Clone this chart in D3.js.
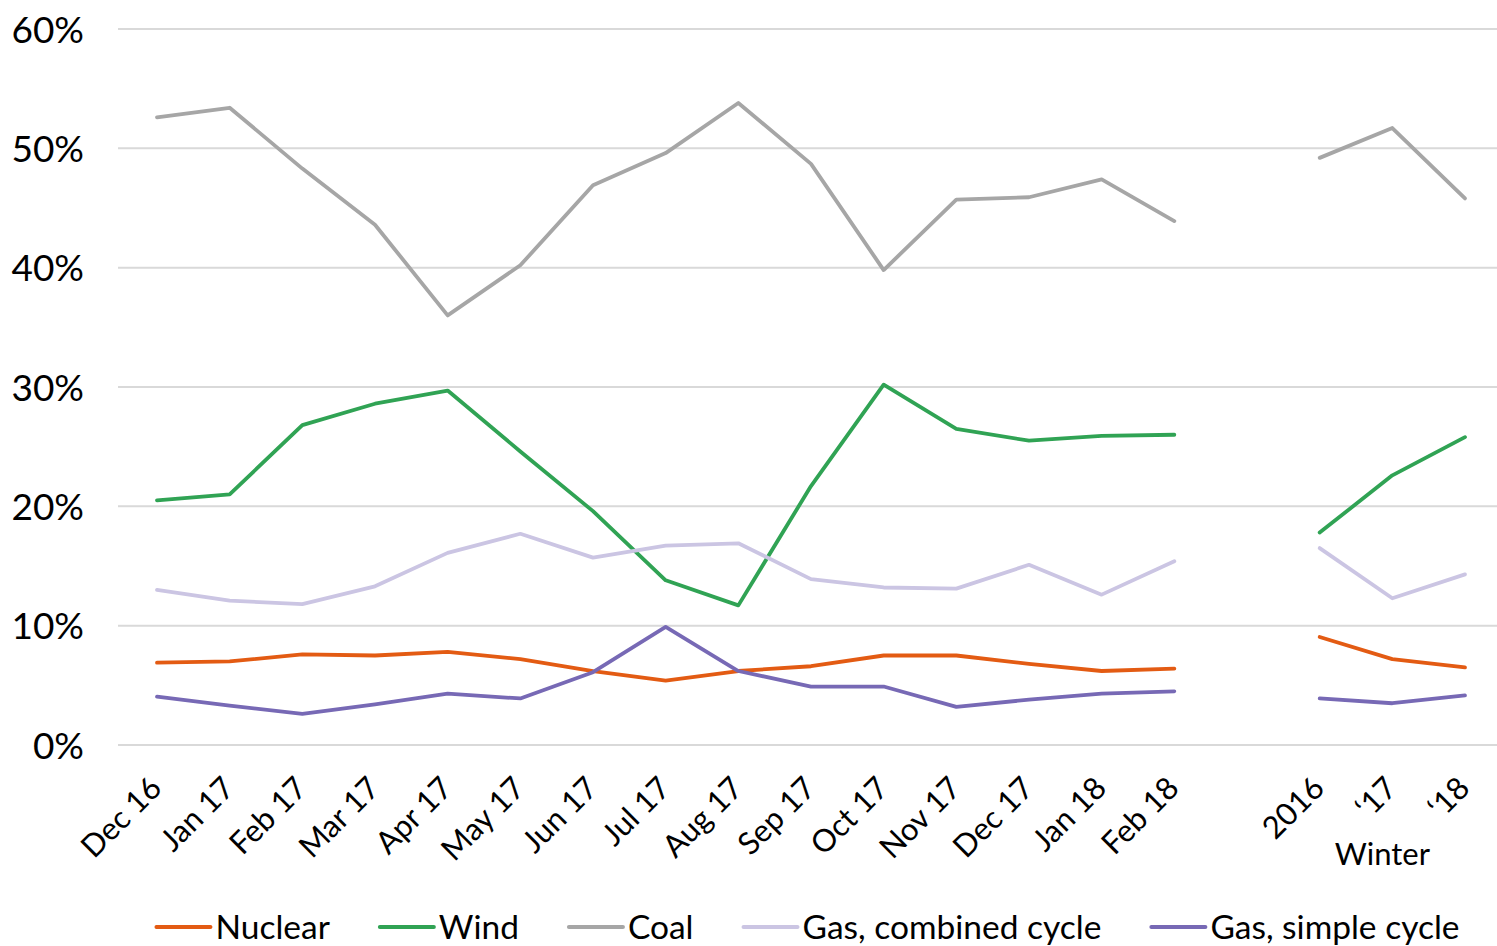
<!DOCTYPE html>
<html>
<head>
<meta charset="utf-8">
<script src="https://cdn.jsdelivr.net/npm/d3@7"></script>
<style>
  html, body { margin: 0; padding: 0; background: #fff; }
  svg { display: block; font-family: Lato, "Open Sans", sans-serif; }
</style>
</head>
<body>
<svg id="chart" width="1497" height="946"></svg>
<script>
// ---------- data ----------
const months = ["Dec 16","Jan 17","Feb 17","Mar 17","Apr 17","May 17","Jun 17","Jul 17","Aug 17","Sep 17","Oct 17","Nov 17","Dec 17","Jan 18","Feb 18"];
const winters = ["2016","\u201817","\u201818"];
const winterTitle = "Winter";
const yTicks = [0, 10, 20, 30, 40, 50, 60];

const seriesNames = ["Nuclear","Wind","Coal","Gas, combined cycle","Gas, simple cycle"];
const seriesColors = ["#E35B13","#30A354","#A6A6A6","#CBC5E3","#7769B5"];

const nuclearMonthly = [6.9, 7.0, 7.6, 7.5, 7.8, 7.2, 6.2, 5.4, 6.2, 6.6, 7.5, 7.5, 6.8, 6.2, 6.4];
const windMonthly    = [20.5, 21.0, 26.8, 28.6, 29.7, 24.6, 19.6, 13.8, 11.7, 21.7, 30.2, 26.5, 25.5, 25.9, 26.0];
const coalMonthly    = [52.6, 53.4, 48.3, 43.6, 36.0, 40.2, 46.9, 49.6, 53.8, 48.7, 39.8, 45.7, 45.9, 47.4, 43.9];
const gasCCMonthly   = [13.0, 12.1, 11.8, 13.3, 16.1, 17.7, 15.7, 16.7, 16.9, 13.9, 13.2, 13.1, 15.1, 12.6, 15.4];
const gasSCMonthly   = [4.05, 3.3, 2.6, 3.4, 4.3, 3.9, 6.1, 9.9, 6.2, 4.9, 4.9, 3.2, 3.8, 4.3, 4.5];

const nuclearWinter = [9.05, 7.2, 6.5];
const windWinter    = [17.8, 22.6, 25.8];
const coalWinter    = [49.2, 51.7, 45.8];
const gasCCWinter   = [16.5, 12.3, 14.3];
const gasSCWinter   = [3.9, 3.5, 4.15];

const monthlyValues = [nuclearMonthly, windMonthly, coalMonthly, gasCCMonthly, gasSCMonthly];
const winterValues  = [nuclearWinter, windWinter, coalWinter, gasCCWinter, gasSCWinter];

// ---------- layout ----------
const svg = d3.select("#chart");
const gap = "__gap__";
const categories = months.concat([gap], winters);

const x = d3.scalePoint().domain(categories).range([157, 1465]);
const y = d3.scaleLinear().domain([0, 60]).range([745, 29]);
const gridLeft = 118, gridRight = 1497;
const X_FONT = 31, Y_FONT = 37, LEG_FONT = 33.5;

// gridlines
svg.append("g").selectAll("line").data(yTicks).join("line")
  .attr("x1", gridLeft).attr("x2", gridRight)
  .attr("y1", d => y(d)).attr("y2", d => y(d))
  .attr("stroke", "#D9D9D9").attr("stroke-width", 2);

// y axis labels
const yAxis = d3.axisLeft(y).tickValues(yTicks).tickFormat(d => d + "%").tickSize(0).tickPadding(0);
const yG = svg.append("g").attr("transform", "translate(84,0)").call(yAxis);
yG.select(".domain").remove();
yG.selectAll("text").attr("font-size", Y_FONT).attr("font-family", "Lato, sans-serif")
  .attr("fill", "#000").attr("dy", "0.36em");

// x axis labels
const xAxis = d3.axisBottom(x).tickValues(months.concat(winters)).tickSize(0).tickPadding(0);
const xG = svg.append("g").call(xAxis);
xG.select(".domain").remove();
xG.selectAll(".tick text")
  .attr("font-size", X_FONT).attr("font-family", "Lato, sans-serif").attr("fill", "#000")
  .attr("text-anchor", "end").attr("y", 0).attr("dy", 0)
  .attr("transform", "translate(6,790) rotate(-45)");

svg.append("text").attr("x", (x(winters[0]) + x(winters[2])) / 2 - 10).attr("y", 865)
  .attr("text-anchor", "middle").attr("font-size", X_FONT).attr("fill", "#000")
  .text(winterTitle);

// lines
const line = d3.line().x(d => x(d.c)).y(d => y(d.v));
seriesNames.forEach((name, i) => {
  const m = months.map((c, j) => ({c, v: monthlyValues[i][j]}));
  const w = winters.map((c, j) => ({c, v: winterValues[i][j]}));
  [m, w].forEach(seg => {
    svg.append("path").datum(seg).attr("d", line)
      .attr("fill", "none").attr("stroke", seriesColors[i]).attr("stroke-width", 3.8)
      .attr("stroke-linecap", "round").attr("stroke-linejoin", "round");
  });
});

// legend
const leg = svg.append("g");
let cx = 0;
seriesNames.forEach((name, i) => {
  const g = leg.append("g");
  g.append("line").attr("x1", 0).attr("x2", 54).attr("y1", 0).attr("y2", 0)
    .attr("stroke", seriesColors[i]).attr("stroke-width", 4).attr("stroke-linecap", "round");
  const t = g.append("text").attr("x", 59).attr("y", 0).attr("dy", "0.35em")
    .attr("font-size", LEG_FONT).attr("fill", "#000").text(name);
  const w = 59 + t.node().getComputedTextLength();
  g.attr("transform", `translate(${cx},0)`);
  cx += w + 50;
});
const totalW = cx - 50;
leg.attr("transform", `translate(${808 - totalW / 2},927)`);
</script>
</body>
</html>
